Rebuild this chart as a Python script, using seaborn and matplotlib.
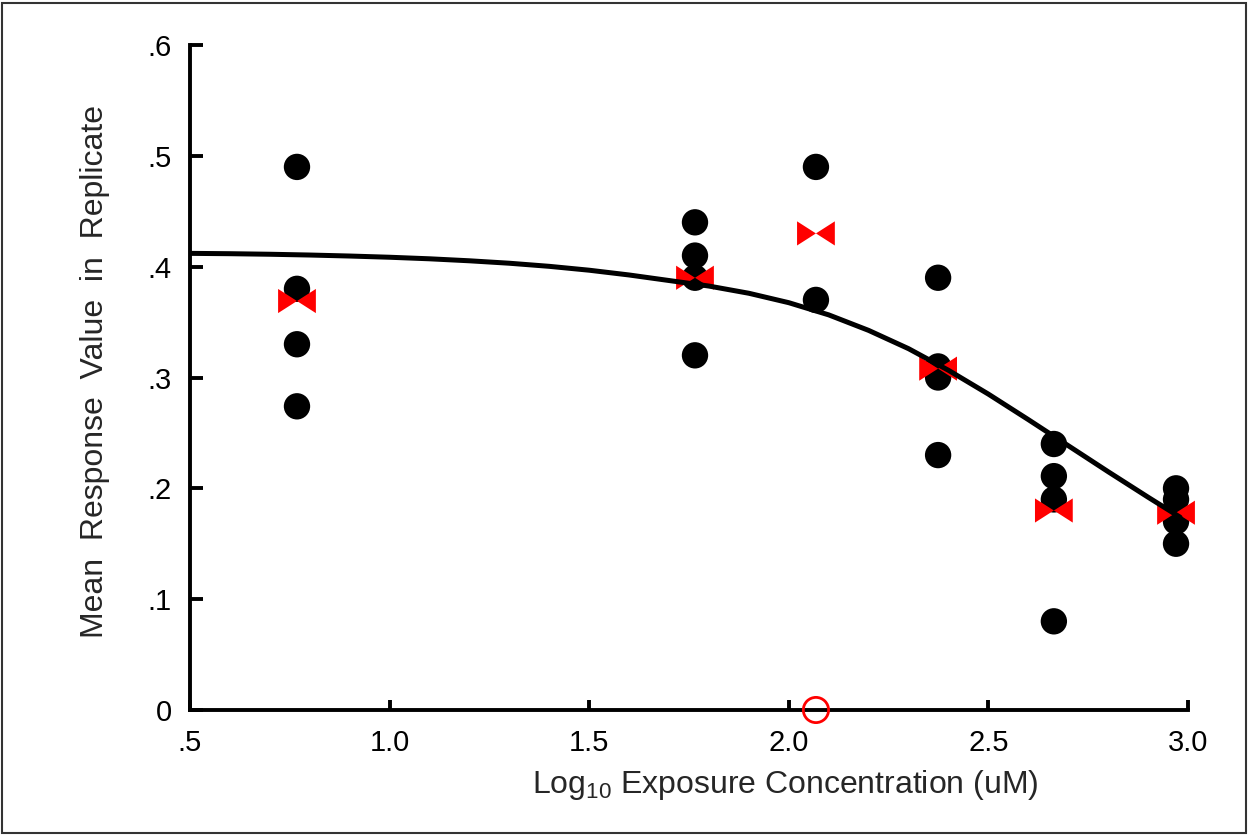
import numpy as np
import pandas as pd
import matplotlib
matplotlib.use("Agg")
import matplotlib.pyplot as plt
from matplotlib.patches import Rectangle
import seaborn as sns

# ---- data ----
rep_x = [0.768, 0.768, 0.768, 0.768,
         1.765, 1.765, 1.765, 1.765,
         2.068, 2.068,
         2.374, 2.374, 2.374, 2.374,
         2.664, 2.664, 2.664, 2.664,
         2.970, 2.970, 2.970, 2.970]
rep_y = [0.49, 0.38, 0.33, 0.274,
         0.44, 0.41, 0.39, 0.32,
         0.49, 0.37,
         0.39, 0.31, 0.30, 0.23,
         0.24, 0.211, 0.19, 0.08,
         0.20, 0.19, 0.17, 0.15]
mean_x = [0.768, 1.765, 2.068, 2.374, 2.664, 2.970]
mean_y = [0.369, 0.390, 0.430, 0.308, 0.180, 0.178]
excl_x = [2.068]
excl_y = [0.0]
curve_x = [0.5, 0.6, 0.7, 0.8, 0.9, 1.0, 1.1, 1.2, 1.3, 1.4, 1.5, 1.6, 1.7,
           1.8, 1.9, 2.0, 2.1, 2.2, 2.3, 2.4, 2.5, 2.6, 2.7, 2.8, 2.9, 2.98]
curve_y = [0.4120, 0.4117, 0.4112, 0.4105, 0.4096, 0.4085, 0.4071, 0.4053, 0.4031,
           0.4003, 0.3968, 0.3925, 0.3875, 0.3825, 0.3760, 0.3675, 0.3565, 0.3425,
           0.3260, 0.3065, 0.2850, 0.2620, 0.2385, 0.2150, 0.1920, 0.1740]
xticks = [0.5, 1.0, 1.5, 2.0, 2.5, 3.0]
xticklabels = [".5", "1.0", "1.5", "2.0", "2.5", "3.0"]
yticks = [0.0, 0.1, 0.2, 0.3, 0.4, 0.5, 0.6]
yticklabels = ["0", ".1", ".2", ".3", ".4", ".5", ".6"]

sns.set_style("white")
plt.rcParams["font.family"] = ["Liberation Sans", "DejaVu Sans"]
plt.rcParams["mathtext.fontset"] = "custom"
plt.rcParams["mathtext.rm"] = "Liberation Sans"
plt.rcParams["mathtext.it"] = "Liberation Sans"

fig = plt.figure(figsize=(12.48, 8.35), dpi=100)
ax = fig.add_axes([190 / 1248, 125 / 835, 998 / 1248, 665 / 835])

reps = pd.DataFrame({"x": rep_x, "y": rep_y})
means = pd.DataFrame({"x": mean_x, "y": mean_y})
curve = pd.DataFrame({"x": curve_x, "y": curve_y})

sns.scatterplot(data=reps, x="x", y="y", ax=ax, s=360, color="black",
                edgecolor="none", zorder=2, clip_on=False)

bowtie = [(-1, -0.64), (0, 0), (-1, 0.64), (-1, -0.64),
          (1, -0.64), (0, 0), (1, 0.64), (1, -0.64)]
sns.scatterplot(data=means, x="x", y="y", ax=ax, s=740, marker=bowtie,
                color="#ff0000", edgecolor="none", linewidth=0, zorder=3, clip_on=False)

ax.scatter(excl_x, excl_y, s=330, facecolor="none", edgecolor="#ff0000",
           linewidth=2.0, zorder=4, clip_on=False)

sns.lineplot(data=curve, x="x", y="y", ax=ax, color="black", linewidth=3.6,
             zorder=5, sort=False)

ax.set_xlim(0.5, 3.0)
ax.set_ylim(0.0, 0.6)
ax.set_xticks(xticks)
ax.set_xticklabels(xticklabels)
ax.set_yticks(yticks)
ax.set_yticklabels(yticklabels)

for side in ["top", "right"]:
    ax.spines[side].set_visible(False)
for side in ["left", "bottom"]:
    ax.spines[side].set_linewidth(2.8)
    ax.spines[side].set_color("black")
    ax.spines[side].set_capstyle("projecting")

ax.tick_params(axis="y", direction="in", length=9, width=2.8, pad=13,
               labelsize=21, colors="black", left=True)
ax.tick_params(axis="x", direction="in", length=7, width=2.8, pad=14,
               labelsize=21, colors="black", bottom=True)

ax.set_xlabel("")
ax.set_ylabel("")
fig.text(95 / 1248, 1 - 371 / 835, "Mean  Response  Value  in  Replicate",
         rotation=90, ha="center", va="center", fontsize=23)
fig.text(785 / 1248, 1 - 785 / 835, "Log$_{10}$ Exposure Concentration (uM)",
         ha="center", va="center", fontsize=23)

fig.patches.append(Rectangle((2 / 1248, 2 / 835), 1244 / 1248, 830 / 835,
                             transform=fig.transFigure, fill=False,
                             edgecolor="#333333", linewidth=1.5))

fig.savefig("out.png", dpi=100)
